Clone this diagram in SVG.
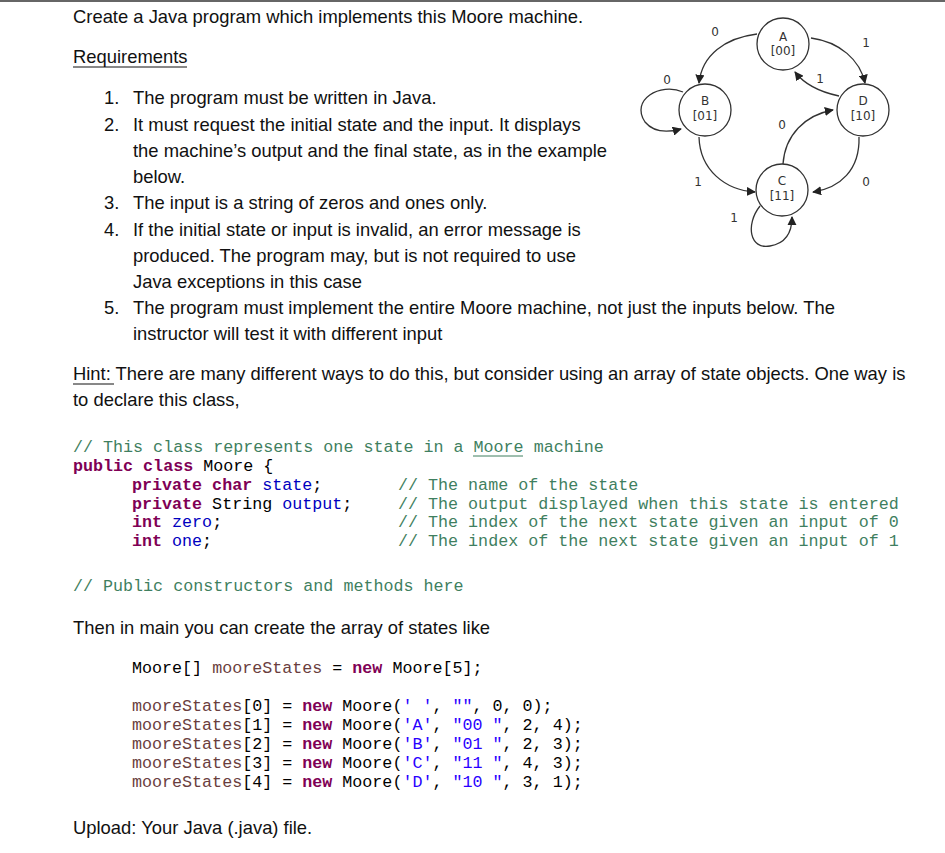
<svg xmlns="http://www.w3.org/2000/svg" width="945" height="853" viewBox="0 0 945 853">
<defs>
<marker id="ar" viewBox="0 0 10 10" refX="9" refY="5" markerWidth="7" markerHeight="7" orient="auto"><path d="M0,0L10,5L0,10z" fill="#222"/></marker>
<style>
.t{font-family:"Liberation Sans",Arial,sans-serif;font-size:18.4px;fill:#111}
.c{font-family:"Liberation Mono","Courier New",monospace;font-size:16.7px;fill:#000;white-space:pre}
.k{fill:#7F0055;font-weight:bold}.cm{fill:#3F7F5F}.f{fill:#0000C0}.s{fill:#2A00FF}.v{fill:#6A3E3E}
.n circle{fill:#fff;stroke:#333;stroke-width:1.3}
.n text,.lb{font-family:"DejaVu Sans",sans-serif;font-size:12px;fill:#333;text-anchor:middle}
.e path{fill:none;stroke:#333;stroke-width:1.3;marker-end:url(#ar)}
</style>
</defs>
<rect width="945" height="853" fill="#fff"/>
<line x1="0" y1="1" x2="945" y2="1" stroke="#666" stroke-width="2"/>
<g id="text">
<text class="t" x="73" y="23">Create a Java program which implements this Moore machine.</text>
<text class="t" x="73" y="63">Requirements</text>
<line x1="73" y1="67" x2="187" y2="67" stroke="#111"/>
<text class="t" x="104" y="104">1.</text><text class="t" x="133" y="104">The program must be written in Java.</text>
<text class="t" x="104" y="131">2.</text><text class="t" x="133" y="131">It must request the initial state and the input. It displays</text>
<text class="t" x="133" y="157">the machine’s output and the final state, as in the example</text>
<text class="t" x="133" y="183">below.</text>
<text class="t" x="104" y="209">3.</text><text class="t" x="133" y="209">The input is a string of zeros and ones only.</text>
<text class="t" x="104" y="236">4.</text><text class="t" x="133" y="236">If the initial state or input is invalid, an error message is</text>
<text class="t" x="133" y="262">produced. The program may, but is not required to use</text>
<text class="t" x="133" y="288">Java exceptions in this case</text>
<text class="t" x="104" y="314">5.</text><text class="t" x="133" y="314">The program must implement the entire Moore machine, not just the inputs below. The</text>
<text class="t" x="133" y="340">instructor will test it with different input</text>
<text class="t" x="73" y="380">Hint: There are many different ways to do this, but consider using an array of state objects. One way is</text>
<line x1="73" y1="384" x2="114" y2="384" stroke="#111"/>
<text class="t" x="73" y="406">to declare this class,</text>
<text class="c" x="73" y="452"><tspan class="cm">// This class represents one state in a Moore machine</tspan></text>
<line x1="473" y1="456" x2="523" y2="456" stroke="#3F7F5F"/>
<text class="c" x="73" y="471"><tspan class="k">public class</tspan> Moore {</text>
<text class="c" x="132" y="490"><tspan class="k">private char</tspan> <tspan class="f">state</tspan>;</text>
<text class="c" x="132" y="509"><tspan class="k">private</tspan> String <tspan class="f">output</tspan>;</text>
<text class="c" x="132" y="527"><tspan class="k">int</tspan> <tspan class="f">zero</tspan>;</text>
<text class="c" x="132" y="546"><tspan class="k">int</tspan> <tspan class="f">one</tspan>;</text>
<text class="c cm" x="398" y="490">// The name of the state</text>
<text class="c cm" x="398" y="509">// The output displayed when this state is entered</text>
<text class="c cm" x="398" y="527">// The index of the next state given an input of 0</text>
<text class="c cm" x="398" y="546">// The index of the next state given an input of 1</text>
<text class="c cm" x="73" y="591">// Public constructors and methods here</text>
<text class="t" x="73" y="634">Then in main you can create the array of states like</text>
<text class="c" x="132" y="673">Moore[] <tspan class="v">mooreStates</tspan> = <tspan class="k">new</tspan> Moore[5];</text>
<text class="c" x="132" y="711"><tspan class="v">mooreStates</tspan>[0] = <tspan class="k">new</tspan> Moore(<tspan class="s">' '</tspan>, <tspan class="s">""</tspan>, 0, 0);</text>
<text class="c" x="132" y="730"><tspan class="v">mooreStates</tspan>[1] = <tspan class="k">new</tspan> Moore(<tspan class="s">'A'</tspan>, <tspan class="s">"00 "</tspan>, 2, 4);</text>
<text class="c" x="132" y="749"><tspan class="v">mooreStates</tspan>[2] = <tspan class="k">new</tspan> Moore(<tspan class="s">'B'</tspan>, <tspan class="s">"01 "</tspan>, 2, 3);</text>
<text class="c" x="132" y="768"><tspan class="v">mooreStates</tspan>[3] = <tspan class="k">new</tspan> Moore(<tspan class="s">'C'</tspan>, <tspan class="s">"11 "</tspan>, 4, 3);</text>
<text class="c" x="132" y="787"><tspan class="v">mooreStates</tspan>[4] = <tspan class="k">new</tspan> Moore(<tspan class="s">'D'</tspan>, <tspan class="s">"10 "</tspan>, 3, 1);</text>
<text class="t" x="73" y="834">Upload: Your Java (.java) file.</text>
</g>
<g id="connectors" class="e">
<path d="M757,34 C725,38 702,55 699,83"/>
<path d="M811,38 C840,42 860,60 865,83"/>
<path d="M839,96 C820,92 805,85 795,72"/>
<path d="M683,92 C660,82 630,100 645,122 C655,134 670,132 681,129"/>
<path d="M699,137 C700,170 725,190 755,192"/>
<path d="M783,164 C785,135 805,115 833,110"/>
<path d="M859,137 C860,170 840,188 813,192"/>
<path d="M760,206 C745,225 750,250 770,246 C788,243 792,230 792,217"/>
<text class="lb" x="715" y="36">0</text>
<text class="lb" x="866" y="47">1</text>
<text class="lb" x="820" y="83">1</text>
<text class="lb" x="667" y="84">0</text>
<text class="lb" x="698" y="186">1</text>
<text class="lb" x="782" y="129">0</text>
<text class="lb" x="866" y="186">0</text>
<text class="lb" x="734" y="222">1</text>
</g>
<g id="A" class="n"><circle cx="783" cy="44" r="26"/><text x="783" y="41">A</text><text x="783" y="55">[00]</text></g>
<g id="B" class="n"><circle cx="705" cy="110" r="26"/><text x="705" y="105">B</text><text x="705" y="120">[01]</text></g>
<g id="D" class="n"><circle cx="863" cy="110" r="26"/><text x="863" y="105">D</text><text x="863" y="120">[10]</text></g>
<g id="C" class="n"><circle cx="782" cy="190" r="26"/><text x="782" y="185">C</text><text x="782" y="200">[11]</text></g>
</svg>
